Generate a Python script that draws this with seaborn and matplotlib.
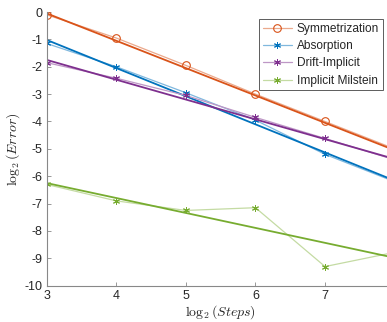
import numpy as np
import pandas as pd
import seaborn as sns
import matplotlib
matplotlib.use("Agg")
import matplotlib.pyplot as plt

steps = [3, 4, 5, 6, 7, 8]
sym_err = [-0.10, -0.95, -1.95, -3.00, -4.00, -5.00]
abs_err = [-1.15, -2.00, -2.95, -3.95, -5.20, -6.20]
drift_err = [-1.85, -2.42, -3.05, -3.85, -4.62, -5.40]
mil_err = [-6.30, -6.90, -7.25, -7.15, -9.30, -8.78]

fit_x = [3, 8]
sym_fit = [-0.05, -5.05]
abs_fit = [-1.02, -6.16]
drift_fit = [-1.75, -5.37]
mil_fit = [-6.25, -8.98]

names = ["Symmetrization", "Absorption", "Drift-Implicit", "Implicit Milstein"]
xtick_vals = [3, 4, 5, 6, 7]
ytick_vals = list(range(-10, 1))

colors = ["#D95319", "#0072BD", "#7E2F8E", "#77AC30"]
light = ["#EBA98C", "#80B8DE", "#BE97C6", "#C4DBA3"]
markers = ["o", (6, 2, 0), (6, 2, 0), (6, 2, 0)]

sns.set_theme(style="white")
plt.rcParams['font.family'] = ['Liberation Sans', 'DejaVu Sans']
plt.rcParams['mathtext.fontset'] = 'cm'

fig = plt.figure(figsize=(3.87, 3.22), dpi=100)
ax = fig.add_axes([0.1207, 0.1127, 0.899, 0.85])

data_sets = [sym_err, abs_err, drift_err, mil_err]
fits = [sym_fit, abs_fit, drift_fit, mil_fit]

for name, err, fit, c, lc, m in zip(names, data_sets, fits, colors, light, markers):
    df = pd.DataFrame({"x": steps, "y": err})
    if m == "o":
        sns.lineplot(data=df, x="x", y="y", ax=ax, color=lc, lw=0.9, marker="o",
                     markersize=5.5, markerfacecolor="none", markeredgecolor=c,
                     markeredgewidth=0.8, label=name)
    else:
        sns.lineplot(data=df, x="x", y="y", ax=ax, color=lc, lw=0.9, marker=m,
                     markersize=5, markeredgecolor=c, markerfacecolor=c,
                     markeredgewidth=0.7, label=name)
    dff = pd.DataFrame({"x": fit_x, "y": fit})
    sns.lineplot(data=dff, x="x", y="y", ax=ax, color=c, lw=1.3, legend=False)

ax.set_xlim(3, 8)
ax.set_ylim(-10, 0)
ax.set_xticks(xtick_vals)
ax.set_xticklabels([str(v) for v in xtick_vals])
ax.set_yticks(ytick_vals)
ax.set_yticklabels([str(v) for v in ytick_vals])
for s in ["top", "right"]:
    ax.spines[s].set_visible(False)
for s in ["left", "bottom"]:
    ax.spines[s].set_color("#888888")
    ax.spines[s].set_linewidth(0.8)
ax.tick_params(direction="in", length=3, width=0.6, color="#888888",
               labelsize=9, labelcolor="#262626", pad=3, left=True, bottom=True)
ax.set_xlabel(r"$\log_2(Steps)$", fontsize=10, color="#262626", labelpad=1)
ax.set_ylabel(r"$\log_2(Error)$", fontsize=10, color="#262626", labelpad=2)

leg = ax.legend(loc="upper right", bbox_to_anchor=(0.966, 0.974), fontsize=8.6,
                frameon=True, fancybox=False, borderpad=0.3, labelspacing=0.45,
                handlelength=2.4, handletextpad=0.45, borderaxespad=0)
leg.get_frame().set_edgecolor("#333333")
leg.get_frame().set_linewidth(0.7)

fig.savefig("out.png", dpi=100)
